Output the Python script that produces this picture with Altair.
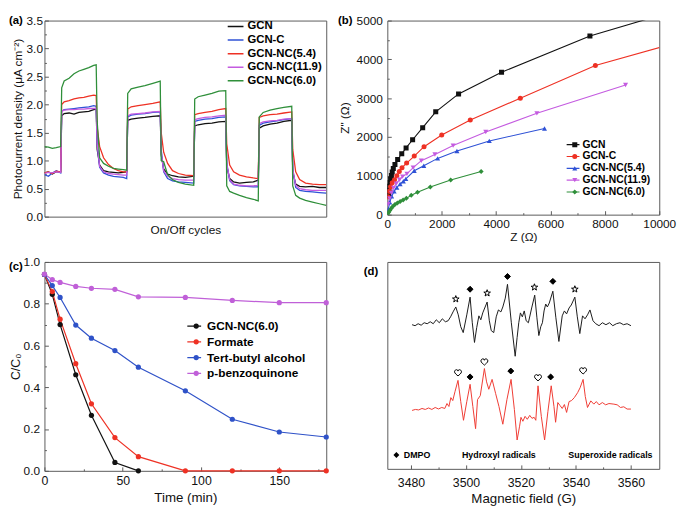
import altair as alt
import pandas as pd

FONT = "Liberation Sans"
FRAME = "#5a5a5a"
TXT = "#111111"

# ---------------- (a) Photocurrent ----------------
a_series = ["GCN", "GCN-C", "GCN-NC(5.4)", "GCN-NC(11.9)", "GCN-NC(6.0)"]
a_colors = ["#111111", "#2f52d6", "#ee3124", "#c45be0", "#2f8f3a"]
a_time = [0, 4, 8, 12, 16.5,
          17.5, 20, 25, 30, 35, 40, 45, 50, 52.5,
          53.5, 56, 60, 65, 70, 75, 80, 83.5,
          84.5, 88, 95, 102, 110, 117.5,
          118.5, 121, 125, 130, 136, 143, 151.5,
          152.5, 156, 163, 170, 177, 184,
          185, 188, 192, 198, 205, 212, 217,
          218, 222, 229, 236, 243, 251,
          252, 255, 259, 265, 272, 279, 286]
a_gcn = [0.78, 0.80, 0.76, 0.80, 0.80,
         1.80, 1.84, 1.85, 1.83, 1.86, 1.87, 1.88, 1.91, 1.92,
         1.20, 0.92, 0.82, 0.80, 0.79, 0.78, 0.79, 0.80,
         1.72, 1.74, 1.76, 1.77, 1.79, 1.80,
         1.10, 0.85, 0.76, 0.73, 0.71, 0.70, 0.72,
         1.62, 1.64, 1.66, 1.67, 1.69, 1.70,
         0.90, 0.68, 0.62, 0.60, 0.61, 0.62, 0.65,
         1.58, 1.62, 1.65, 1.67, 1.70, 1.72,
         0.80, 0.58, 0.54, 0.53, 0.54, 0.52, 0.52]
a_gcnc = [0.75, 0.72, 0.78, 0.82, 0.78,
          1.88, 1.91, 1.92, 1.93, 1.94, 1.95, 1.96, 1.98, 1.97,
          1.30, 0.88, 0.78, 0.74, 0.72, 0.71, 0.70, 0.68,
          1.78, 1.81, 1.83, 1.84, 1.86, 1.87,
          1.20, 0.80, 0.68, 0.64, 0.62, 0.61, 0.60,
          1.70, 1.72, 1.74, 1.75, 1.77, 1.78,
          0.95, 0.64, 0.57, 0.55, 0.54, 0.53, 0.53,
          1.63, 1.67, 1.69, 1.71, 1.73, 1.75,
          0.85, 0.52, 0.47, 0.45, 0.44, 0.43, 0.42]
a_nc54 = [0.78, 0.80, 0.77, 0.81, 0.80,
          2.00, 2.05, 2.07, 2.10, 2.12, 2.13, 2.15, 2.17, 2.16,
          1.60, 1.25, 1.05, 0.93, 0.86, 0.82, 0.80, 0.80,
          1.92, 1.96, 1.98, 2.00, 2.02, 2.05,
          1.50, 1.15, 0.95, 0.82, 0.77, 0.74, 0.73,
          1.82, 1.84, 1.86, 1.88, 1.91, 1.93,
          1.30, 0.92, 0.80, 0.74, 0.71, 0.69, 0.68,
          1.77, 1.80, 1.82, 1.83, 1.85, 1.87,
          1.20, 0.80, 0.66, 0.60, 0.58, 0.57, 0.57]
a_nc119 = [0.77, 0.79, 0.78, 0.80, 0.79,
           1.88, 1.90, 1.91, 1.91, 1.92, 1.92, 1.93, 1.93, 1.93,
           1.30, 0.90, 0.80, 0.77, 0.76, 0.75, 0.74, 0.74,
           1.80, 1.83, 1.84, 1.85, 1.87, 1.88,
           1.15, 0.82, 0.72, 0.68, 0.66, 0.65, 0.65,
           1.73, 1.75, 1.77, 1.78, 1.80, 1.81,
           0.95, 0.66, 0.58, 0.56, 0.55, 0.55, 0.56,
           1.66, 1.69, 1.71, 1.72, 1.74, 1.75,
           0.85, 0.56, 0.50, 0.48, 0.47, 0.47, 0.47]
a_nc60 = [1.25, 1.24, 1.22, 1.23, 1.25,
          2.30, 2.42, 2.47, 2.55, 2.60, 2.63, 2.66, 2.70, 2.71,
          1.70, 1.05, 0.95, 0.90, 0.86, 0.85, 0.84, 0.83,
          2.20, 2.28, 2.31, 2.34, 2.38, 2.42,
          1.00, 0.98, 0.75, 0.66, 0.61, 0.58, 0.56,
          2.10, 2.14, 2.17, 2.20, 2.24, 2.25,
          0.55, 0.45, 0.42, 0.38, 0.34, 0.31, 0.28,
          1.78, 1.86, 1.90, 1.93, 1.95, 1.97,
          0.55, 0.38, 0.33, 0.29, 0.26, 0.23, 0.20]
a_yticks = [0.0, 0.25, 0.5, 0.75, 1.0, 1.25, 1.5, 1.75, 2.0, 2.25, 2.5, 2.75, 3.0, 3.25, 3.5]

# ---------------- (b) Nyquist ----------------
b_series = ["GCN", "GCN-C", "GCN-NC(5.4)", "GCN-NC(11.9)", "GCN-NC(6.0)"]
b_colors = ["#111111", "#ee3124", "#2f52d6", "#c45be0", "#2f8f3a"]
b_shapes = ["square", "circle", "triangle-up", "triangle-down", "diamond"]
b_gcn_z = [40, 60, 80, 100, 120, 150, 180, 220, 280, 380, 530, 690, 930, 1300, 1780, 2620, 4200, 7450, 11000]
b_gcn_zz = [500, 620, 730, 830, 920, 1010, 1100, 1190, 1290, 1420, 1570, 1720, 1930, 2240, 2650, 3110, 3670, 4600, 5340]
b_c_z = [25, 70, 120, 180, 265, 350, 440, 540, 710, 990, 1350, 2000, 3050, 4890, 7650, 11500]
b_c_zz = [460, 600, 720, 820, 900, 1005, 1110, 1210, 1330, 1510, 1750, 2050, 2440, 3000, 3840, 4600]
b_54_z = [40, 90, 160, 250, 350, 470, 590, 680, 990, 1340, 1850, 2560, 3750, 5780]
b_54_zz = [150, 320, 470, 600, 700, 790, 860, 920, 1130, 1260, 1450, 1640, 1900, 2220]
b_119_z = [30, 80, 150, 230, 330, 450, 560, 720, 950, 1250, 1750, 2420, 3620, 5500, 8760]
b_119_zz = [270, 420, 560, 690, 800, 900, 980, 1050, 1210, 1390, 1550, 1780, 2130, 2610, 3340]
b_60_z = [20, 50, 90, 140, 200, 280, 370, 470, 580, 700, 880, 1110, 1580, 2330, 3450]
b_60_zz = [20, 60, 110, 160, 210, 260, 300, 340, 380, 420, 500, 580, 715, 895, 1110]
b_xticks = [0, 1000, 2000, 3000, 4000, 5000, 6000, 7000, 8000, 9000, 10000]
b_yticks = [0, 500, 1000, 1500, 2000, 2500, 3000, 3500, 4000, 4500, 5000]

# ---------------- (c) Degradation ----------------
c_series = ["GCN-NC(6.0)", "Formate", "Tert-butyl alcohol", "p-benzoquinone"]
c_colors = ["#111111", "#ee3124", "#2f52c8", "#c060d8"]
c_t_black = [0, 5, 10, 20, 30, 45, 60]
c_black = [0.94, 0.845, 0.70, 0.46, 0.266, 0.04, 0.0]
c_t_full = [0, 5, 10, 20, 30, 45, 60, 90, 120, 150, 180]
c_formate = [0.94, 0.858, 0.726, 0.513, 0.321, 0.159, 0.068, 0.0, 0.0, 0.0, 0.0]
c_tba = [0.94, 0.887, 0.83, 0.698, 0.635, 0.576, 0.496, 0.383, 0.247, 0.186, 0.162]
c_bq = [0.942, 0.915, 0.902, 0.883, 0.874, 0.869, 0.833, 0.83, 0.816, 0.805, 0.805]
c_xticks = [0, 25, 50, 75, 100, 125, 150, 175]
c_yticks = [0.0, 0.1, 0.2, 0.3, 0.4, 0.5, 0.6, 0.7, 0.8, 0.9, 1.0]

# ---------------- (d) EPR ----------------
d_black = [(3480.4, 148), (3481.5, 147), (3482.6, 149), (3483.7, 147.5), (3484.8, 150), (3485.9, 149),
           (3487.0, 151), (3488.1, 149), (3489.2, 153), (3490.3, 150), (3491.4, 154), (3492.5, 151),
           (3493.5, 152), (3494.4, 156), (3495.3, 161), (3496.3, 166), (3497.2, 158), (3498.1, 146),
           (3499.0, 140), (3500.3, 158), (3501.5, 176), (3502.3, 150), (3503.1, 130), (3503.9, 145),
           (3504.7, 157), (3505.4, 153), (3506.1, 160), (3507.7, 171), (3508.5, 152), (3509.2, 142),
           (3510.1, 140), (3511.0, 156), (3511.8, 163), (3512.7, 161), (3513.4, 166), (3514.3, 175),
           (3515.1, 189), (3516.5, 150), (3517.9, 116), (3518.6, 135), (3519.2, 150), (3519.8, 160),
           (3520.5, 156), (3521.2, 162), (3521.9, 152), (3522.7, 150), (3523.9, 165), (3525.0, 178),
           (3525.8, 155), (3526.5, 137), (3527.2, 146), (3527.8, 150), (3528.4, 162), (3529.0, 169),
           (3529.6, 166), (3530.3, 170), (3531.6, 182), (3532.7, 155), (3533.8, 131), (3535.0, 157),
           (3535.8, 162), (3536.6, 159), (3537.5, 165), (3538.3, 168), (3539.6, 176), (3540.5, 156),
           (3541.4, 139), (3542.4, 157), (3543.3, 154), (3544.2, 158), (3545.1, 163), (3546.2, 152),
           (3547.2, 149), (3548.4, 147), (3549.6, 150), (3550.9, 148), (3552.2, 150), (3553.4, 147),
           (3554.7, 149), (3556.0, 150), (3557.3, 148), (3558.6, 149), (3560.0, 147)]
d_red = [(3480.4, 61), (3481.6, 62), (3482.8, 61.5), (3484.0, 63), (3485.2, 62), (3486.4, 63.5),
         (3487.6, 62), (3488.8, 64), (3490.0, 62.5), (3491.2, 64), (3492.3, 63), (3493.1, 68),
         (3493.8, 65), (3494.5, 74), (3495.2, 71), (3496.0, 80), (3497.1, 91.5), (3498.1, 70),
         (3499.1, 51), (3500.3, 70), (3501.5, 87.5), (3502.5, 65), (3503.5, 42.5), (3504.2, 72),
         (3505.2, 76), (3506.7, 103.5), (3507.5, 90), (3508.3, 82.5), (3509.5, 92.5), (3510.8, 78),
         (3512.0, 65), (3513.4, 47), (3514.9, 72), (3516.4, 92.5), (3517.6, 62), (3518.6, 31),
         (3519.5, 45), (3520.0, 54), (3520.7, 50), (3521.5, 55), (3522.3, 52), (3523.2, 56),
         (3524.0, 53), (3524.8, 54), (3525.4, 51), (3526.2, 86), (3527.4, 55), (3528.6, 31),
         (3529.8, 60), (3531.0, 86), (3532.0, 65), (3532.6, 49), (3533.4, 69), (3534.2, 66),
         (3535.0, 63), (3535.8, 67), (3536.6, 59), (3537.5, 70), (3538.4, 71), (3539.4, 74),
         (3540.6, 79), (3541.5, 84), (3542.6, 92.5), (3543.4, 75), (3544.2, 64), (3545.4, 70.7),
         (3546.5, 67.4), (3547.4, 70), (3548.4, 66.7), (3549.6, 69), (3550.8, 66.7), (3552.0, 68),
         (3553.8, 67.4), (3555.0, 66.7), (3556.2, 64), (3557.4, 64.7), (3558.6, 62.4), (3560.0, 62.4)]
d_marker_kinds = ["DMPO", "Hydroxyl radicals", "Superoxide radicals"]
d_mark_g = [3496.3, 3501.5, 3507.7, 3515.1, 3524.9, 3531.6, 3539.6,
            3497.1, 3501.5, 3506.7, 3516.3, 3526.2, 3530.8, 3542.6]
d_mark_v = [174, 184, 180, 197, 186, 192, 184, 99, 95, 110, 101, 94, 95, 101]
d_mark_kind = ["Hydroxyl radicals", "DMPO", "Hydroxyl radicals", "DMPO", "Hydroxyl radicals", "DMPO",
               "Hydroxyl radicals", "Superoxide radicals", "DMPO", "Superoxide radicals", "DMPO",
               "Superoxide radicals", "DMPO", "Superoxide radicals"]
d_xticks = [3480, 3490, 3500, 3510, 3520, 3530, 3540, 3550, 3560]

panel_letters = ["(a)", "(b)", "(c)", "(d)"]

# solid-looking diamond (nested outlines), open star, open heart
DIAMOND = ("M0,-0.85L0.85,0L0,0.85L-0.85,0Z M0,-0.55L0.55,0L0,0.55L-0.55,0Z "
           "M0,-0.25L0.25,0L0,0.25L-0.25,0Z")
STAR = ("M0,-1L0.235,-0.324L0.951,-0.309L0.38,0.124L0.588,0.809L0,0.4L-0.588,0.809"
        "L-0.38,0.124L-0.951,-0.309L-0.235,-0.324Z")
HEART = ("M0,0.85C-0.3,0.55 -1,0.1 -1,-0.35C-1,-0.75 -0.65,-0.95 -0.4,-0.95"
         "C-0.15,-0.95 0,-0.75 0,-0.55C0,-0.75 0.15,-0.95 0.4,-0.95"
         "C0.65,-0.95 1,-0.75 1,-0.35C1,0.1 0.3,0.55 0,0.85Z")


# ---------------- helpers ----------------
def make_axis(title, values, test, fmt, lsize, tsize, lpad, tpad):
    # inward ticks: major 4px, minor 2px; labelPadding is measured from the tick end
    return alt.Axis(
        title=title, values=values, format=fmt,
        labelExpr=f"({test}) ? datum.label : ''",
        tickSize={"expr": f"({test}) ? -4 : -2"}, ticks=True, domain=False, grid=False,
        labelPadding=lpad + 4, titlePadding=tpad, labelOverlap=False, labelFlush=False,
        labelFontSize=lsize, titleFontSize=tsize, labelFont=FONT, titleFont=FONT,
        labelColor=TXT, titleColor=TXT, titleFontWeight="normal", tickColor=FRAME,
    )


def letter(i, dx, dy):
    return alt.Chart(pd.DataFrame({"label": [panel_letters[i]]})).mark_text(
        align="left", baseline="top", font=FONT, fontSize=11.5, fontWeight="bold", color="#000000"
    ).encode(text="label:N", x=alt.value(dx), y=alt.value(dy))


def leg(x, y, size, rowh, fsize, loff, **kw):
    return alt.Legend(orient="none", legendX=x, legendY=y, title=None, symbolSize=size,
                      labelFont=FONT, labelFontSize=fsize, labelFontWeight="bold",
                      labelColor="#000000", clipHeight=rowh, rowPadding=0, labelOffset=loff,
                      padding=0, **kw)


# ---------------- (a) ----------------
a_vals = [a_gcn, a_gcnc, a_nc54, a_nc119, a_nc60]
df_a = pd.DataFrame([
    {"t": t, "j": v, "series": s}
    for s, vals in zip(a_series, a_vals) for t, v in zip(a_time, vals)
])
a_lines = alt.Chart(df_a).mark_line(strokeWidth=1.3, clip=True).encode(
    x=alt.X("t:Q", scale=alt.Scale(domain=[0, 286], nice=False, zero=False),
            axis=alt.Axis(title="On/Off cycles", labels=False, ticks=False, domain=False, grid=False,
                          titlePadding=8, titleFontSize=12, titleFont=FONT, titleColor=TXT,
                          titleFontWeight="normal")),
    y=alt.Y("j:Q", scale=alt.Scale(domain=[0, 3.5], nice=False),
            axis=make_axis("Photocurrent density (μA cm⁻²)", a_yticks,
                           "abs(datum.value*2 - round(datum.value*2)) < 0.001", ".1f", 12, 12, 2, 2)),
    color=alt.Color("series:N", scale=alt.Scale(domain=a_series, range=a_colors),
                    legend=alt.Legend(orient="none", legendX=185, legendY=0, title=None,
                                      symbolType="stroke", symbolSize=256, symbolStrokeWidth=1.5,
                                      labelFont=FONT, labelFontSize=11.5, labelFontWeight="bold",
                                      labelColor="#000000", clipHeight=12, rowPadding=1.8,
                                      labelOffset=3, padding=0)),
)
chart_a = alt.layer(a_lines, letter(0, -36, -6)).properties(width=286, height=199)

# ---------------- (b) ----------------
# marker keys carry a trailing space so the marker legend stays separate from the line legend
b_markers = [s + " " for s in b_series]
b_data = [(b_gcn_z, b_gcn_zz), (b_c_z, b_c_zz), (b_54_z, b_54_zz), (b_119_z, b_119_zz), (b_60_z, b_60_zz)]
df_b = pd.DataFrame([
    {"z": z, "zz": zz, "series": s, "marker": m}
    for s, m, (zs, zzs) in zip(b_series, b_markers, b_data) for z, zz in zip(zs, zzs)
])
b_x = alt.X("z:Q", scale=alt.Scale(domain=[0, 10000], nice=False),
            axis=make_axis("Z (Ω)", b_xticks, "datum.value % 2000 === 0", "d", 12, 12, 4, 0))
b_y = alt.Y("zz:Q", scale=alt.Scale(domain=[0, 5000], nice=False),
            axis=make_axis('Z" (Ω)', b_yticks, "datum.value % 1000 === 0", "d", 12, 12, 5, 5))
b_line = alt.Chart(df_b).mark_line(strokeWidth=1.1, clip=True).encode(
    x=b_x, y=b_y,
    stroke=alt.Stroke("series:N", scale=alt.Scale(domain=b_series, range=b_colors),
                      legend=leg(181, 120, 169, 12, 10.5, 2, symbolType="stroke", symbolStrokeWidth=1.2)))
b_pleg = leg(185, 120, 26, 12, 10.5, 2, labelOpacity=0, symbolStrokeWidth=0)
b_pts = alt.Chart(df_b).mark_point(filled=True, size=26, opacity=1, clip=True).encode(
    x=b_x, y=b_y,
    fill=alt.Fill("marker:N", scale=alt.Scale(domain=b_markers, range=b_colors), legend=b_pleg),
    shape=alt.Shape("marker:N", scale=alt.Scale(domain=b_markers, range=b_shapes), legend=b_pleg))
chart_b = alt.layer(b_line, b_pts, letter(1, -50, -6)).properties(width=276, height=197)

# ---------------- (c) ----------------
c_markers = [s + " " for s in c_series]
c_data = [(c_t_black, c_black), (c_t_full, c_formate), (c_t_full, c_tba), (c_t_full, c_bq)]
df_c = pd.DataFrame([
    {"t": t, "c": v, "series": s, "marker": m}
    for s, m, (ts, vs) in zip(c_series, c_markers, c_data) for t, v in zip(ts, vs)
])
c_x = alt.X("t:Q", scale=alt.Scale(domain=[0, 180], nice=False),
            axis=make_axis("Time (min)", c_xticks, "datum.value % 50 === 0", "d", 12.5, 13.5, 4, 2))
c_y = alt.Y("c:Q", scale=alt.Scale(domain=[0, 1.0], nice=False),
            axis=make_axis("C/C₀", c_yticks, "abs(datum.value*5 - round(datum.value*5)) < 0.001",
                           ".1f", 12, 12.5, 5, 1))
c_line = alt.Chart(df_c).mark_line(strokeWidth=1.2).encode(
    x=c_x, y=c_y,
    stroke=alt.Stroke("series:N", scale=alt.Scale(domain=c_series, range=c_colors),
                      legend=leg(144, 57.3, 196, 15.5, 12, 5, symbolType="stroke", symbolStrokeWidth=1.2)))
c_pts = alt.Chart(df_c).mark_point(filled=True, size=28, opacity=1, shape="circle").encode(
    x=c_x, y=c_y,
    fill=alt.Fill("marker:N", scale=alt.Scale(domain=c_markers, range=c_colors),
                  legend=leg(148, 57.3, 28, 15.5, 12, 5, labelOpacity=0, symbolType="circle",
                             symbolStrokeWidth=0)))
chart_c = alt.layer(c_line, c_pts, letter(2, -36, -1)).properties(width=286, height=212)

# ---------------- (d) ----------------
df_dt = pd.DataFrame(
    [{"g": g, "v": v, "trace": "OH"} for g, v in d_black] +
    [{"g": g, "v": v, "trace": "O2"} for g, v in d_red]
)
df_dm = pd.DataFrame({"g": d_mark_g, "v": d_mark_v, "kind": d_mark_kind})
d_x = alt.X("g:Q", scale=alt.Scale(domain=[3471.4, 3570.3], nice=False, zero=False),
            axis=make_axis("Magnetic field (G)", d_xticks, "(datum.value - 3480) % 20 === 0", "d",
                           12.5, 13.5, 8, 1))
d_y = alt.Y("v:Q", scale=alt.Scale(domain=[1.7, 211.7], nice=False, zero=False), axis=None)
d_line = alt.Chart(df_dt).mark_line(strokeWidth=1.0).encode(
    x=d_x, y=d_y,
    color=alt.Color("trace:N", scale=alt.Scale(domain=["OH", "O2"], range=["#1a1a1a", "#ef3b33"]),
                    legend=None))
d_legend = alt.Legend(orient="none", legendX=4.7, legendY=191, direction="horizontal", columns=3,
                      title=None, symbolSize=50, symbolStrokeColor="#000000", symbolStrokeWidth=1,
                      labelFont=FONT, labelFontSize=9, labelFontWeight="bold", labelColor="#000000",
                      clipHeight=10, columnPadding=20, labelOffset=3, padding=0)
d_pts = alt.Chart(df_dm).mark_point(filled=False, opacity=1, size=50, color="#000000",
                                    stroke="#000000", strokeWidth=1).encode(
    x=d_x, y=d_y,
    shape=alt.Shape("kind:N", scale=alt.Scale(domain=d_marker_kinds, range=[DIAMOND, STAR, HEART]),
                    legend=d_legend),
    fill=alt.Fill("kind:N", scale=alt.Scale(domain=d_marker_kinds, range=["#000000", "#ffffff", "#ffffff"]),
                  legend=None),
)
chart_d = alt.layer(d_line, d_pts, letter(3, -24, 4)).properties(width=276, height=210)

chart = alt.concat(chart_a, chart_b, chart_c, chart_d, columns=2,
                   spacing={"row": 46, "column": 62}, bounds="flush").resolve_scale(
    color="independent", fill="independent", stroke="independent", shape="independent"
).resolve_legend(
    color="independent", fill="independent", stroke="independent", shape="independent"
).properties(
    padding={"left": 0, "top": 2, "right": 0, "bottom": 0}
).configure(font=FONT).configure_view(stroke=FRAME, strokeWidth=1)

chart.save("out.html", embed_options={"renderer": "svg", "actions": False})
